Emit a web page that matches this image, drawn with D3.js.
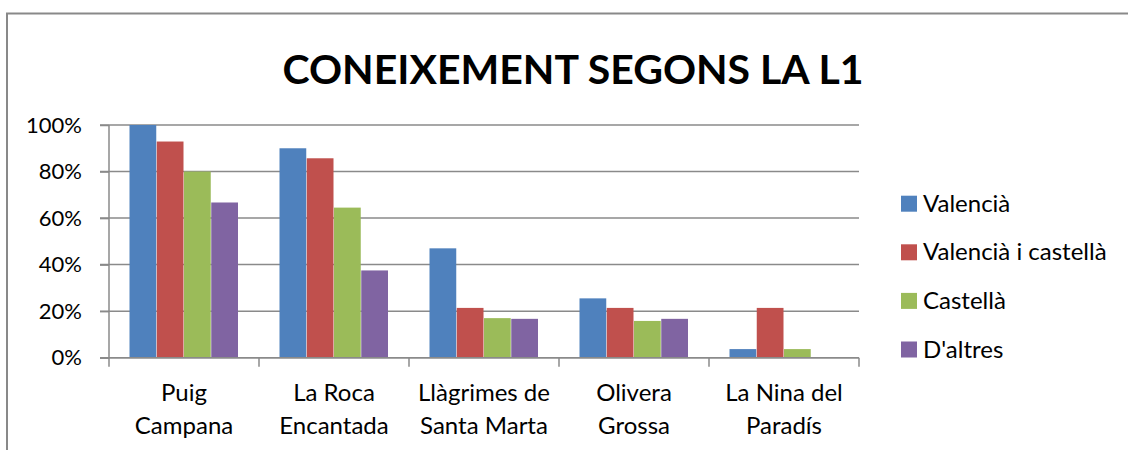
<!DOCTYPE html>
<html>
<head>
<meta charset="utf-8">
<script src="https://cdn.jsdelivr.net/npm/d3@7"></script>
<style>
  body { margin: 0; background: #fff; }
  svg { display: block; }
  text { font-family: Lato, "Open Sans", sans-serif; fill: #000; }
</style>
</head>
<body>
<svg id="chart" width="1128" height="450"></svg>
<script>
  var title = "CONEIXEMENT SEGONS LA L1";

  var categories = [
    ["Puig", "Campana"],
    ["La Roca", "Encantada"],
    ["Llàgrimes de", "Santa Marta"],
    ["Olivera", "Grossa"],
    ["La Nina del", "Paradís"]
  ];

  var seriesNames = ["Valencià", "Valencià i castellà", "Castellà", "D'altres"];

  var valencia   = [1.00, 0.90, 0.47, 0.255, 0.037];
  var valCastella = [0.929, 0.857, 0.214, 0.214, 0.214];
  var castella   = [0.80, 0.645, 0.17, 0.158, 0.037];
  var altres     = [0.667, 0.375, 0.167, 0.167, 0];

  var yTicks = [0, 0.2, 0.4, 0.6, 0.8, 1.0];

  var colors = ["#4f81bd", "#c0504d", "#9bbb59", "#8064a2"];

  var seriesValues = [valencia, valCastella, castella, altres];

  var plot = { left: 109, right: 859, top: 125, bottom: 357.7 };

  var svg = d3.select('#chart');

  // outer chart frame (only top and left edges are visible)
  svg.append('path')
      .attr('d', 'M7,450 V13.5 H1128')
      .attr('fill', 'none')
      .attr('stroke', '#898989')
      .attr('stroke-width', 2);

  svg.append('text')
      .attr('x', 573)
      .attr('y', 84)
      .attr('text-anchor', 'middle')
      .style('font-weight', 'bold')
      .style('font-size', '41px')
      .text(title);

  var x0 = d3.scaleBand()
      .domain(d3.range(categories.length))
      .range([plot.left, plot.right]);

  var x1 = d3.scaleBand()
      .domain(d3.range(seriesNames.length))
      .range([20.5, x0.bandwidth() - 20.5]);

  var y = d3.scaleLinear()
      .domain([0, 1])
      .range([plot.bottom, plot.top]);

  // gridlines
  svg.append('g')
      .attr('class', 'grid')
      .selectAll('line')
      .data(yTicks)
      .enter().append('line')
        .attr('x1', plot.left - 9)
        .attr('x2', plot.right)
        .attr('y1', function(d) { return y(d); })
        .attr('y2', function(d) { return y(d); })
        .attr('stroke', '#8a8a8a')
        .attr('stroke-width', 1.5);

  // bars
  var groups = svg.append('g')
      .selectAll('g')
      .data(seriesValues)
      .enter().append('g')
        .attr('fill', function(d, i) { return colors[i]; });

  groups.each(function(vals, s) {
    d3.select(this).selectAll('rect')
      .data(vals)
      .enter().append('rect')
        .attr('x', function(d, i) { return x0(i) + x1(s); })
        .attr('width', x1.bandwidth() - 0.5)
        .attr('y', function(d) { return y(d); })
        .attr('height', function(d) { return y(0) - y(d); });
  });

  // y axis
  var yAxis = svg.append('g')
      .attr('transform', 'translate(' + plot.left + ',0)')
      .call(d3.axisLeft(y)
        .tickValues(yTicks)
        .tickSize(9)
        .tickPadding(18)
        .tickFormat(d3.format('.0%')));

  yAxis.selectAll('line, path').attr('stroke', '#8a8a8a').attr('stroke-width', 1.5);
  yAxis.select('.domain').attr('d', 'M0,' + plot.top + 'V' + plot.bottom);
  yAxis.selectAll('text')
      .style('font-family', 'Lato, "Open Sans", sans-serif')
      .style('font-size', '22px')
      .attr('fill', '#000');

  // x axis
  var xAxis = svg.append('g')
      .attr('transform', 'translate(0,' + plot.bottom + ')');

  xAxis.append('line')
      .attr('x1', plot.left)
      .attr('x2', plot.right)
      .attr('stroke', '#8a8a8a')
      .attr('stroke-width', 1.5);

  xAxis.selectAll('.tick')
      .data(d3.range(categories.length + 1))
      .enter().append('line')
        .attr('x1', function(d) { return plot.left + d * x0.bandwidth(); })
        .attr('x2', function(d) { return plot.left + d * x0.bandwidth(); })
        .attr('y1', 0)
        .attr('y2', 9)
        .attr('stroke', '#8a8a8a')
        .attr('stroke-width', 1.5);

  var labels = xAxis.selectAll('.label')
      .data(categories)
      .enter().append('text')
        .attr('text-anchor', 'middle')
        .style('font-size', '24px')
        .attr('transform', function(d, i) {
          return 'translate(' + (x0(i) + x0.bandwidth() / 2) + ',43)';
        });

  labels.selectAll('tspan')
      .data(function(d) { return d; })
      .enter().append('tspan')
        .attr('x', 0)
        .attr('y', function(d, i) { return i * 33; })
        .text(function(d) { return d; });

  // legend
  var legend = svg.append('g')
      .selectAll('g')
      .data(seriesNames)
      .enter().append('g')
        .attr('transform', function(d, i) {
          return 'translate(901,' + (203.7 + i * 48.6) + ')';
        });

  legend.append('rect')
      .attr('x', 0)
      .attr('y', -8)
      .attr('width', 16)
      .attr('height', 16)
      .attr('fill', function(d, i) { return colors[i]; });

  legend.append('text')
      .attr('x', 22)
      .attr('y', 8)
      .style('font-size', '24px')
      .text(function(d) { return d; });
</script>
</body>
</html>
